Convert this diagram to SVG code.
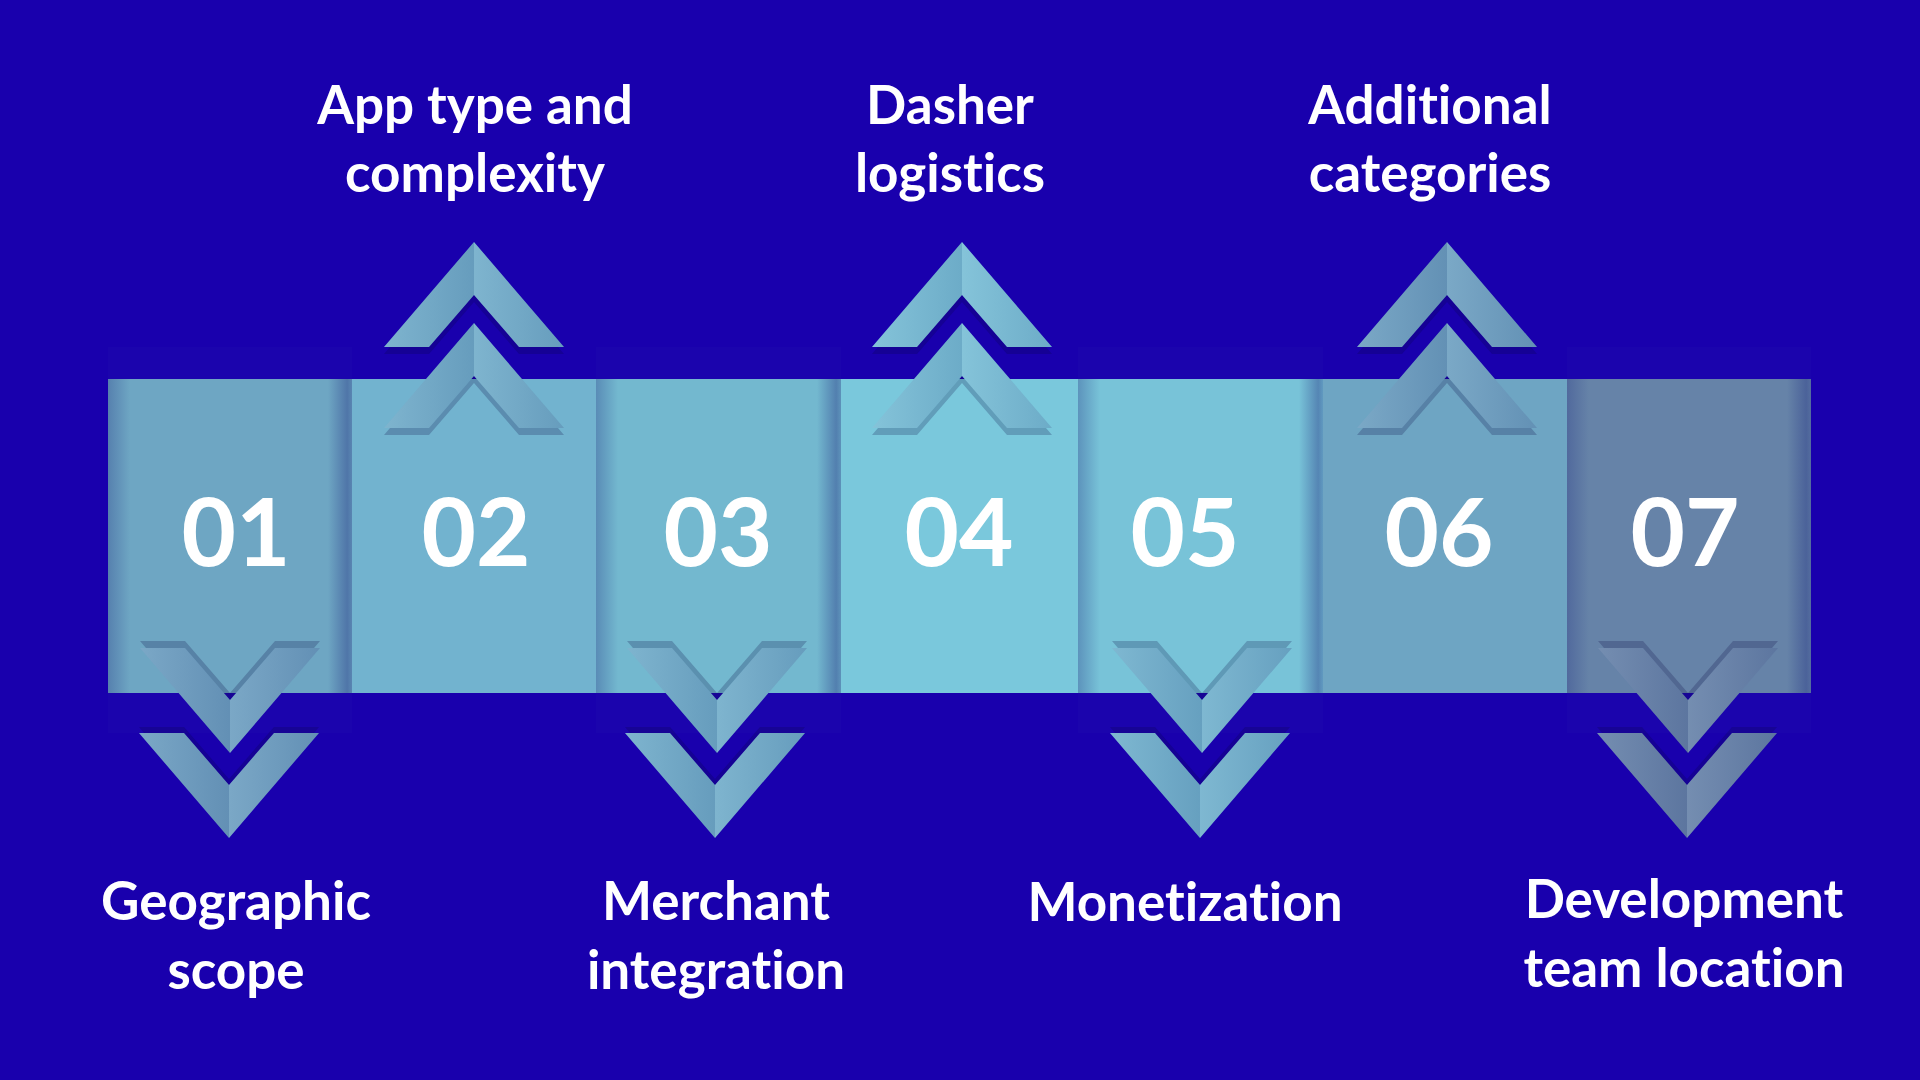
<svg xmlns="http://www.w3.org/2000/svg" xmlns:xlink="http://www.w3.org/1999/xlink" width="1920" height="1080" viewBox="0 0 1920 1080">
  <style>
    text { font-variant-ligatures: none; font-feature-settings: "liga" 0, "clig" 0; }
    .num { font-family: Lato, "Liberation Sans", sans-serif; font-weight: 700; font-size: 94px; fill: #ffffff; text-anchor: middle; }
    .lbl { font-family: Lato, "Liberation Sans", sans-serif; font-weight: 700; font-size: 53px; fill: #ffffff; text-anchor: middle; }
    .shadow { fill: #0a0640; opacity: 0.22; }
    .shadeHalf { fill: url(#halfShade); }
  </style>
  <defs>
    <linearGradient id="halfShade" x1="0" y1="0" x2="1" y2="0">
      <stop offset="0" stop-color="#ffffff" stop-opacity="0.10"/>
      <stop offset="1" stop-color="#101050" stop-opacity="0.10"/>
    </linearGradient>
    <linearGradient id="edgeL" x1="0" y1="0" x2="1" y2="0">
      <stop offset="0" stop-color="#2a3a88" stop-opacity="0.35"/>
      <stop offset="1" stop-color="#2a3a88" stop-opacity="0"/>
    </linearGradient>
    <linearGradient id="edgeR" x1="0" y1="0" x2="1" y2="0">
      <stop offset="0" stop-color="#2a3a88" stop-opacity="0"/>
      <stop offset="0.8" stop-color="#2a3a88" stop-opacity="0.45"/>
      <stop offset="1" stop-color="#2a3a88" stop-opacity="0.3"/>
    </linearGradient>
    <!-- down chevron, origin at (centre, top) -->
    <path id="chevDown" d="M-90,0 L-45,0 L0,52 L45,0 L90,0 L0,105 Z"/>
    <path id="chevDownL" d="M-90,0 L-45,0 L0,52 L0,105 Z"/>
    <path id="chevDownR" d="M0,52 L45,0 L90,0 L0,105 Z"/>
    <!-- up chevron, origin at (centre, base) -->
    <path id="chevUp" d="M-90,0 L-45,0 L0,-52 L45,0 L90,0 L0,-105 Z"/>
    <path id="chevUpL" d="M-90,0 L-45,0 L0,-52 L0,-105 Z"/>
    <path id="chevUpR" d="M0,-52 L45,0 L90,0 L0,-105 Z"/>
  </defs>

  <rect x="0" y="0" width="1920" height="1080" fill="#1900ad"/>

  <!-- faint envelopes of raised strips -->
  <g id="strip-envelopes" fill="#6fa8d0" opacity="0.025">
    <rect x="108" y="347" width="244" height="386"/>
    <rect x="596" y="347" width="245" height="386"/>
    <rect x="1078" y="347" width="245" height="386"/>
    <rect x="1567" y="347" width="244" height="386"/>
  </g>

  <g id="node-01">
    <rect x="108" y="379" width="244" height="314" fill="#6ea6c3"/>
    <rect x="108" y="379" width="22" height="314" fill="url(#edgeL)"/>
    <rect x="328" y="379" width="24" height="314" fill="url(#edgeR)"/>
    <text class="num" x="236" y="566">01</text>
    <use href="#chevDown" x="230" y="641" class="shadow"/>
    <use href="#chevDown" x="230" y="648" fill="#6c9ec0"/>
    <use href="#chevDownL" x="230" y="648" class="shadeHalf"/>
    <use href="#chevDownR" x="230" y="648" class="shadeHalf"/>
    <use href="#chevDown" x="229" y="727" class="shadow" opacity="0.1"/>
    <use href="#chevDown" x="229" y="733" fill="#6c9ec0"/>
    <use href="#chevDownL" x="229" y="733" class="shadeHalf"/>
    <use href="#chevDownR" x="229" y="733" class="shadeHalf"/>
    <text class="lbl" x="236" y="920">Geographic</text>
    <text class="lbl" x="236" y="989">scope</text>
  </g>

  <g id="node-02">
    <rect x="352" y="379" width="244" height="314" fill="#72b3cf"/>
    <text class="num" x="476" y="566">02</text>
    <use href="#chevUp" x="474" y="354" class="shadow" opacity="0.1"/>
    <use href="#chevUp" x="474" y="347" fill="#70acc9"/>
    <use href="#chevUpL" x="474" y="347" class="shadeHalf"/>
    <use href="#chevUpR" x="474" y="347" class="shadeHalf"/>
    <use href="#chevUp" x="474" y="435" class="shadow"/>
    <use href="#chevUp" x="474" y="428" fill="#70acc9"/>
    <use href="#chevUpL" x="474" y="428" class="shadeHalf"/>
    <use href="#chevUpR" x="474" y="428" class="shadeHalf"/>
    <text class="lbl" x="475" y="124">App type and</text>
    <text class="lbl" x="475" y="192">complexity</text>
  </g>

  <g id="node-03">
    <rect x="596" y="379" width="245" height="314" fill="#73b8cf"/>
    <rect x="596" y="379" width="22" height="314" fill="url(#edgeL)"/>
    <rect x="817" y="379" width="24" height="314" fill="url(#edgeR)"/>
    <text class="num" x="718" y="566">03</text>
    <use href="#chevDown" x="717" y="641" class="shadow"/>
    <use href="#chevDown" x="717" y="648" fill="#70acc9"/>
    <use href="#chevDownL" x="717" y="648" class="shadeHalf"/>
    <use href="#chevDownR" x="717" y="648" class="shadeHalf"/>
    <use href="#chevDown" x="715" y="727" class="shadow" opacity="0.1"/>
    <use href="#chevDown" x="715" y="733" fill="#70acc9"/>
    <use href="#chevDownL" x="715" y="733" class="shadeHalf"/>
    <use href="#chevDownR" x="715" y="733" class="shadeHalf"/>
    <text class="lbl" x="716" y="920">Merchant</text>
    <text class="lbl" x="716" y="989">integration</text>
  </g>

  <g id="node-04">
    <rect x="841" y="379" width="237" height="314" fill="#7ac8dc"/>
    <text class="num" x="959" y="566">04</text>
    <use href="#chevUp" x="962" y="354" class="shadow" opacity="0.1"/>
    <use href="#chevUp" x="962" y="347" fill="#77bdd5"/>
    <use href="#chevUpL" x="962" y="347" class="shadeHalf"/>
    <use href="#chevUpR" x="962" y="347" class="shadeHalf"/>
    <use href="#chevUp" x="962" y="435" class="shadow"/>
    <use href="#chevUp" x="962" y="428" fill="#77bdd5"/>
    <use href="#chevUpL" x="962" y="428" class="shadeHalf"/>
    <use href="#chevUpR" x="962" y="428" class="shadeHalf"/>
    <text class="lbl" x="950" y="124">Dasher</text>
    <text class="lbl" x="950" y="192">logistics</text>
  </g>

  <g id="node-05">
    <rect x="1078" y="379" width="245" height="314" fill="#78c3d8"/>
    <rect x="1078" y="379" width="22" height="314" fill="url(#edgeL)"/>
    <rect x="1299" y="379" width="24" height="314" fill="url(#edgeR)"/>
    <text class="num" x="1185" y="566">05</text>
    <use href="#chevDown" x="1202" y="641" class="shadow"/>
    <use href="#chevDown" x="1202" y="648" fill="#70b0cc"/>
    <use href="#chevDownL" x="1202" y="648" class="shadeHalf"/>
    <use href="#chevDownR" x="1202" y="648" class="shadeHalf"/>
    <use href="#chevDown" x="1200" y="727" class="shadow" opacity="0.1"/>
    <use href="#chevDown" x="1200" y="733" fill="#70b0cc"/>
    <use href="#chevDownL" x="1200" y="733" class="shadeHalf"/>
    <use href="#chevDownR" x="1200" y="733" class="shadeHalf"/>
    <text class="lbl" x="1185" y="921">Monetization</text>
  </g>

  <g id="node-06">
    <rect x="1323" y="379" width="244" height="314" fill="#6ea5c3"/>
    <text class="num" x="1439" y="566">06</text>
    <use href="#chevUp" x="1447" y="354" class="shadow" opacity="0.1"/>
    <use href="#chevUp" x="1447" y="347" fill="#6c9fc0"/>
    <use href="#chevUpL" x="1447" y="347" class="shadeHalf"/>
    <use href="#chevUpR" x="1447" y="347" class="shadeHalf"/>
    <use href="#chevUp" x="1447" y="435" class="shadow"/>
    <use href="#chevUp" x="1447" y="428" fill="#6c9fc0"/>
    <use href="#chevUpL" x="1447" y="428" class="shadeHalf"/>
    <use href="#chevUpR" x="1447" y="428" class="shadeHalf"/>
    <text class="lbl" x="1430" y="124">Additional</text>
    <text class="lbl" x="1430" y="192">categories</text>
  </g>

  <g id="node-07">
    <rect x="1567" y="379" width="244" height="314" fill="#6683a8"/>
    <rect x="1567" y="379" width="22" height="314" fill="url(#edgeL)"/>
    <rect x="1787" y="379" width="24" height="314" fill="url(#edgeR)"/>
    <text class="num" x="1685" y="566">07</text>
    <use href="#chevDown" x="1688" y="641" class="shadow"/>
    <use href="#chevDown" x="1688" y="648" fill="#6581a8"/>
    <use href="#chevDownL" x="1688" y="648" class="shadeHalf"/>
    <use href="#chevDownR" x="1688" y="648" class="shadeHalf"/>
    <use href="#chevDown" x="1687" y="727" class="shadow" opacity="0.1"/>
    <use href="#chevDown" x="1687" y="733" fill="#6581a8"/>
    <use href="#chevDownL" x="1687" y="733" class="shadeHalf"/>
    <use href="#chevDownR" x="1687" y="733" class="shadeHalf"/>
    <text class="lbl" x="1684" y="918">Development</text>
    <text class="lbl" x="1684" y="987">team location</text>
  </g>
</svg>
